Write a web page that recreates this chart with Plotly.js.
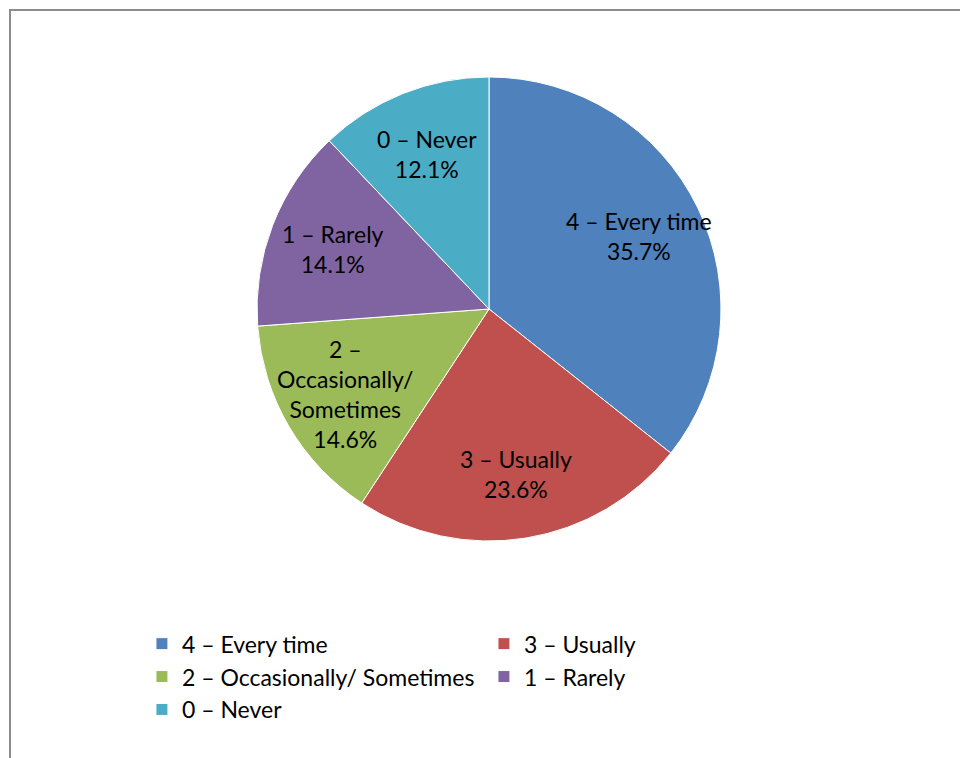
<!DOCTYPE html>
<html>
<head>
<meta charset="utf-8">
<script src="https://cdn.plot.ly/plotly-3.0.1.min.js"></script>
<style>
  html, body { margin: 0; padding: 0; background: #fff; }
  #frame { position: absolute; left: 9px; top: 9px; width: 1000px; height: 800px;
           border: 2px solid #8c8c8c; box-sizing: border-box; pointer-events: none; }
  #chart { position: absolute; left: 0; top: 0; width: 960px; height: 758px; }
</style>
</head>
<body>
<div id="chart"></div>
<div id="frame"></div>
<script>
const categories = ["4 – Every time", "3 – Usually", "2 – Occasionally/ Sometimes", "1 – Rarely", "0 – Never"];
const sliceLabels = ["4 – Every time", "3 – Usually", "2 –<br>Occasionally/<br>Sometimes", "1 – Rarely", "0 – Never"];
const percentages = [35.7, 23.6, 14.6, 14.1, 12.1];
const colors = ["#4F81BD", "#C0504D", "#9BBB59", "#8064A2", "#4BACC6"];

const FONT = "Lato, 'Open Sans', sans-serif";
const W = 960, H = 758;
const M = { l: 20, r: 2, t: 77, b: 217 };

const trace = {
  type: "pie",
  labels: categories,
  values: percentages,
  textinfo: "none",
  textposition: "none",
  sort: false,
  direction: "clockwise",
  rotation: 0,
  marker: { colors: colors, line: { color: "#ffffff", width: 1 } },
  hoverinfo: "label+percent"
};

// Data labels placed along each slice's mid-angle (derived from the values)
const plotW = W - M.l - M.r, plotH = H - M.t - M.b;
const R = Math.min(plotW, plotH) / 2;
const total = percentages.reduce((a, b) => a + b, 0);
const labelRadius = 0.72;
let cum = 0;
const annotations = percentages.map((v, i) => {
  const mid = (cum + v / 2) / total * 2 * Math.PI;
  cum += v;
  const pct = (v / total * 100).toFixed(1) + "%";
  return {
    xref: "paper", yref: "paper",
    x: 0.5 + labelRadius * R * Math.sin(mid) / plotW,
    y: 0.5 + labelRadius * R * Math.cos(mid) / plotH,
    xanchor: "center", yanchor: "middle",
    text: sliceLabels[i] + "<br>" + pct,
    showarrow: false,
    font: { family: FONT, size: 23, color: "#000" }
  };
});

const layout = {
  width: W,
  height: H,
  margin: M,
  paper_bgcolor: "#ffffff",
  showlegend: true,
  annotations: annotations,
  legend: {
    orientation: "h",
    x: 0.13, xanchor: "left",
    y: -0.175, yanchor: "top",
    entrywidth: 297, entrywidthmode: "pixels",
    font: { family: FONT, size: 23, color: "#000" },
    itemclick: false, itemdoubleclick: false
  },
  font: { family: FONT, color: "#000" }
};

Plotly.newPlot("chart", [trace], layout, { displayModeBar: false, staticPlot: true });
</script>
</body>
</html>
